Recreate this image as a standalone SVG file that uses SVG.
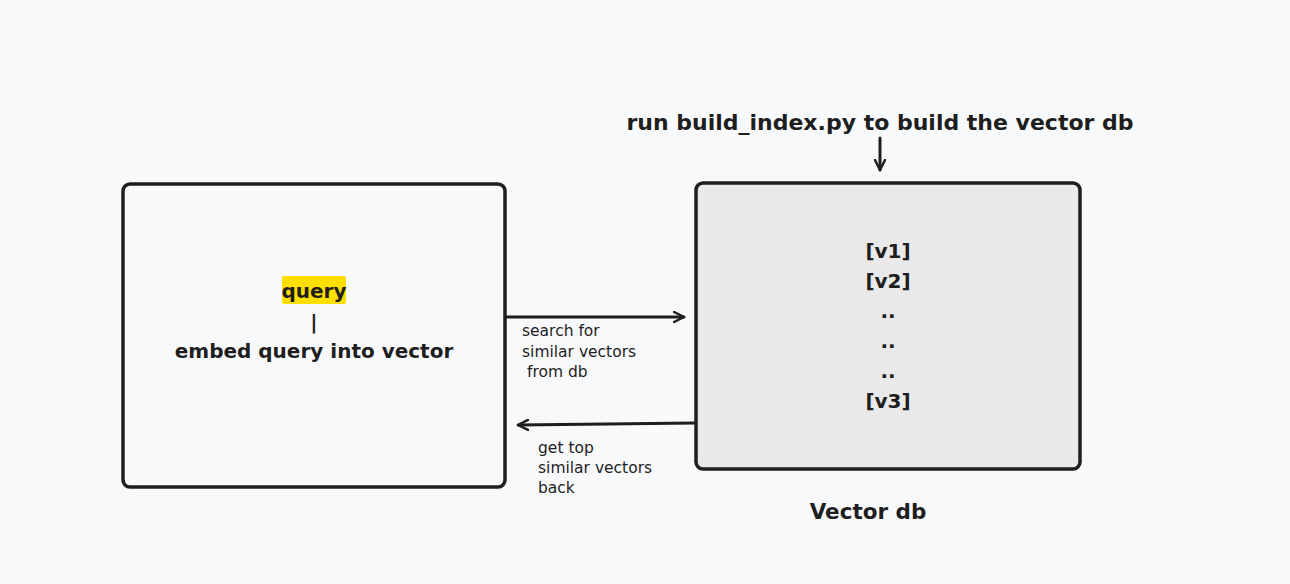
<svg xmlns="http://www.w3.org/2000/svg" width="1290" height="584" viewBox="0 0 1290 584">
<style>
.box{stroke:#1e1e1e;stroke-width:3.5;stroke-linejoin:round}
.t{font-family:"DejaVu Sans","Liberation Sans",sans-serif;font-weight:bold;fill:#1e1e1e}
.big{font-size:20px}
.sm{font-size:15.5px;font-weight:normal}
.edge{stroke:#1e1e1e;stroke-width:3;fill:none;stroke-linecap:round}
</style>
<defs>
<marker id="ah" viewBox="0 0 12 12" refX="11" refY="6" markerWidth="12" markerHeight="12" markerUnits="userSpaceOnUse" orient="auto">
<path d="M1,1 L11,6 L1,11" fill="none" stroke="#1e1e1e" stroke-width="2.5" stroke-linecap="round" stroke-linejoin="round"/>
</marker>
</defs>
<rect width="1290" height="584" fill="#f8f9fb"/>
<g id="title">
<text class="t" font-size="22" x="880" y="130" text-anchor="middle">run build_index.py to build the vector db</text>
</g>
<g id="query-node">
<rect class="box" x="123" y="184" width="382" height="303" rx="7" fill="#f8f9fb"/>
<rect x="282" y="276" width="64" height="28" rx="2" fill="#ffdf00"/>
<text class="t big" x="314" y="298" text-anchor="middle">query</text>
<text class="t big" x="314" y="329" text-anchor="middle">|</text>
<text class="t big" x="314" y="358" text-anchor="middle">embed query into vector</text>
</g>
<g id="vector-db">
<rect class="box" x="696" y="183" width="384" height="286" rx="7" fill="#e9e9e9"/>
<g class="t big" text-anchor="middle">
<text x="888" y="258">[v1]</text>
<text x="888" y="288">[v2]</text>
<text x="888" y="318">..</text>
<text x="888" y="348">..</text>
<text x="888" y="378">..</text>
<text x="888" y="408">[v3]</text>
</g>
<text class="t" font-size="21.5" x="868" y="519" text-anchor="middle">Vector db</text>
</g>
<g id="connectors">
<path class="edge" d="M880,138 L880,170" marker-end="url(#ah)"/>
<path class="edge" d="M506,317 L684,317" marker-end="url(#ah)"/>
<path class="edge" d="M695,423 L518,425" marker-end="url(#ah)"/>
<g class="t sm">
<text x="522" y="336">search for</text>
<text x="522" y="357">similar vectors</text>
<text x="527" y="377">from db</text>
<text x="538" y="453">get top</text>
<text x="538" y="473">similar vectors</text>
<text x="538" y="493">back</text>
</g>
</g>
</svg>
